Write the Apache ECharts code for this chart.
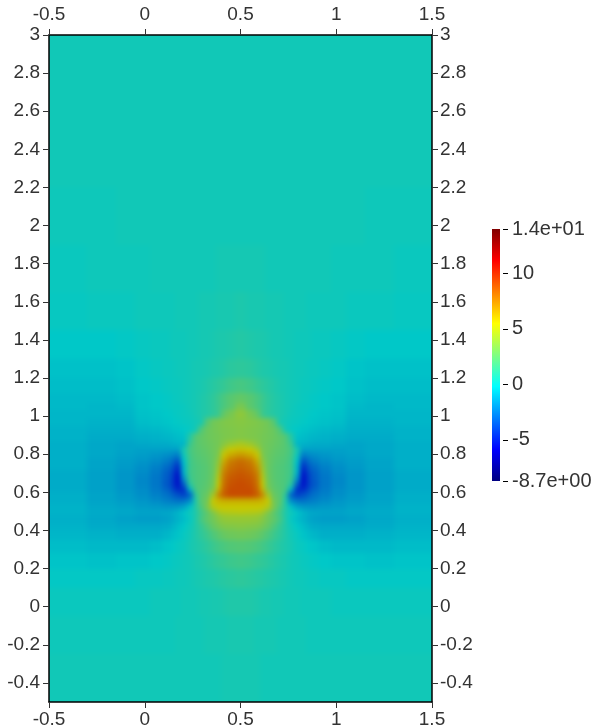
<!DOCTYPE html>
<html>
<head>
<meta charset="utf-8">
<style>
html,body{margin:0;padding:0;background:#fff}
#chart{width:600px;height:727px}
/* field layer: soften the cells, keep it inside the plot frame */
#chart canvas[data-zr-dom-id="zr_1"]{filter:blur(2.5px);clip-path:inset(35px 168px 25px 49px)}
</style>
<script src="https://cdn.jsdelivr.net/npm/echarts@6/dist/echarts.min.js"></script>
</head>
<body>
<div id="chart"></div>
<script>
const xTicks = [-0.5, 0, 0.5, 1, 1.5]
const yTicks = [3, 2.8, 2.6, 2.4, 2.2, 2, 1.8, 1.6, 1.4, 1.2, 1, 0.8, 0.6, 0.4, 0.2, 0, -0.2, -0.4]
const colorbarTicks = [-8.7, -5, 0, 5, 10, 14]
const colorbarLabels = ['-8.7e+00', '-5', '0', '5', '10', '1.4e+01']
const colorbarColors = ['#000080', '#0000ff', '#0080ff', '#00ffff', '#80ff80', '#ffff00', '#ff8000', '#ff0000', '#800000']
const fieldColors = ['#000064', '#0000c8', '#0064c8', '#00c8c8', '#64c864', '#c8c800', '#c86400', '#c80000', '#640000']

// cell borders of the field, finer around the bubble
const xEdges = [-0.5, -0.3, -0.15, -0.05, 0.03, 0.09, 0.13, 0.16, 0.19, 0.22, 0.25, 0.28, 0.31, 0.34, 0.37, 0.4, 0.43, 0.47,
  0.53, 0.57, 0.6, 0.63, 0.66, 0.69, 0.72, 0.75, 0.78, 0.81, 0.84, 0.87, 0.91, 0.97, 1.05, 1.15, 1.3, 1.5]
const yEdges = [3, 2.6, 2.2, 1.9, 1.65, 1.45, 1.3, 1.2, 1.12, 1.07, 1.03, 0.99, 0.95, 0.91, 0.87, 0.84, 0.81, 0.78, 0.75, 0.72,
  0.69, 0.66, 0.63, 0.6, 0.57, 0.54, 0.51, 0.48, 0.44, 0.4, 0.35, 0.28, 0.2, 0.1, -0.05, -0.25, -0.5]

// one row per y cell, top to bottom
const fieldRows = [
[.3,.3,.3,.3,.3,.3,.3,.3,.3,.3,.3,.3,.3,.3,.3,.3,.3,.3,.3,.3,.3,.3,.3,.3,.3,.3,.3,.3,.3,.3,.3,.3,.3,.3,.3],
[.3,.3,.3,.3,.3,.3,.3,.3,.3,.3,.3,.3,.3,.3,.3,.3,.3,.3,.3,.3,.3,.3,.3,.3,.3,.3,.3,.3,.3,.3,.3,.3,.3,.3,.3],
[.2,.2,.3,.3,.3,.3,.3,.3,.3,.3,.3,.3,.3,.3,.3,.3,.3,.3,.3,.3,.3,.3,.3,.3,.3,.3,.3,.3,.3,.3,.3,.3,.3,.2,.2],
[.1,.2,.2,.2,.3,.3,.3,.3,.3,.3,.3,.3,.3,.3,.4,.4,.4,.4,.4,.4,.4,.3,.3,.3,.3,.3,.3,.3,.3,.3,.3,.2,.2,.2,.1],
[0,.1,.1,.2,.2,.2,.2,.3,.3,.3,.3,.4,.4,.4,.5,.5,.5,.6,.5,.5,.5,.4,.4,.4,.3,.3,.3,.3,.2,.2,.2,.2,.1,.1,0],
[-.2,-.2,-.1,0,.1,.1,.2,.2,.2,.3,.3,.4,.4,.5,.6,.6,.7,.8,.7,.6,.6,.5,.4,.4,.3,.3,.2,.2,.2,.1,.1,0,-.1,-.2,-.2],
[-.4,-.4,-.3,-.1,0,.1,.1,.2,.2,.3,.4,.4,.5,.6,.7,.8,1,1.1,1,.8,.7,.6,.5,.4,.4,.3,.2,.2,.1,.1,0,-.1,-.3,-.4,-.4],
[-.5,-.5,-.4,-.2,-.1,0,.1,.1,.2,.3,.4,.5,.7,.9,1.1,1.3,1.6,1.8,1.6,1.3,1.1,.9,.7,.5,.4,.3,.2,.1,.1,0,-.1,-.2,-.4,-.5,-.5],
[-.6,-.6,-.5,-.3,-.2,-.1,0,.1,.2,.3,.4,.6,.8,1.1,1.5,1.9,2.3,2.6,2.3,1.9,1.5,1.1,.8,.6,.4,.3,.2,.1,0,-.1,-.2,-.3,-.5,-.6,-.6],
[-.6,-.7,-.6,-.3,-.2,-.1,0,0,.1,.3,.4,.6,.8,1.1,1.5,1.9,2.4,3.2,2.4,1.9,1.5,1.1,.8,.6,.4,.3,.1,0,0,-.1,-.2,-.3,-.6,-.7,-.6],
[-.7,-.7,-.7,-.4,-.3,-.2,-.1,0,.1,.2,.4,.6,.8,1.1,1.5,2.6,3.2,3.8,3.2,2.6,1.5,1.1,.8,.6,.4,.2,.1,0,-.1,-.2,-.3,-.4,-.7,-.7,-.7],
[-.7,-.8,-.8,-.5,-.4,-.3,-.2,-.1,0,.1,.3,.5,2.2,3,3.2,3.4,3.5,3.6,3.5,3.4,3.2,3,2.2,.5,.3,.1,0,-.1,-.2,-.3,-.4,-.5,-.8,-.8,-.7],
[-.8,-.9,-.9,-.7,-.6,-.5,-.4,-.3,-.2,0,.3,2,2.8,3,3.2,3.3,3.4,3.5,3.4,3.3,3.2,3,2.8,2,.3,0,-.2,-.3,-.4,-.5,-.6,-.7,-.9,-.9,-.8],
[-.8,-1,-1,-.9,-.8,-.7,-.6,-.5,-.4,.9,2.2,2.5,2.8,3,3.1,3.3,3.4,3.5,3.4,3.3,3.1,3,2.8,2.5,2.2,.9,-.4,-.5,-.6,-.7,-.8,-.9,-1,-1,-.8],
[-.9,-1.1,-1.2,-1.1,-1,-1,-.9,-.8,-.7,1.5,2.2,2.5,2.7,2.9,3.1,3.6,4.2,4.6,4.2,3.6,3.1,2.9,2.7,2.5,2.2,1.5,-.7,-.8,-.9,-1,-1,-1.1,-1.2,-1.1,-.9],
[-.9,-1.1,-1.2,-1.3,-1.3,-1.3,-1.3,-1.3,.5,1.8,2.2,2.4,2.6,2.9,3.2,4.6,5.5,5.7,5.5,4.6,3.2,2.9,2.6,2.4,2.2,1.8,.5,-1.3,-1.3,-1.3,-1.3,-1.3,-1.2,-1.1,-.9],
[-.9,-1.1,-1.3,-1.4,-1.6,-1.8,-2,-2.3,.2,1.7,2.1,2.3,2.5,2.8,3.4,5.6,6.4,6.8,6.4,5.6,3.4,2.8,2.5,2.3,2.1,1.7,.2,-2.3,-2,-1.8,-1.6,-1.4,-1.3,-1.1,-.9],
[-.9,-1.2,-1.4,-1.6,-1.9,-2.3,-2.8,-3.6,-.3,1.6,2,2.2,2.4,2.8,3.8,6.3,7.6,8,7.6,6.3,3.8,2.8,2.4,2.2,2,1.6,-.3,-3.6,-2.8,-2.3,-1.9,-1.6,-1.4,-1.2,-.9],
[-.9,-1.2,-1.5,-1.8,-2.2,-2.8,-3.4,-4.6,-.6,1.6,1.9,2.1,2.3,2.8,4.2,7,8,8.3,8,7,4.2,2.8,2.3,2.1,1.9,1.6,-.6,-4.6,-3.4,-2.8,-2.2,-1.8,-1.5,-1.2,-.9],
[-1,-1.3,-1.6,-1.9,-2.4,-3.1,-3.9,-5.2,-.7,1.6,1.9,2.1,2.3,2.8,4.6,7.5,8.3,8.6,8.3,7.5,4.6,2.8,2.3,2.1,1.9,1.6,-.7,-5.2,-3.9,-3.1,-2.4,-1.9,-1.6,-1.3,-1],
[-1,-1.3,-1.6,-2,-2.5,-3.2,-4.1,-5.5,-1.5,1.5,1.9,2.1,2.3,2.9,5,7.8,8.6,8.8,8.6,7.8,5,2.9,2.3,2.1,1.9,1.5,-1.5,-5.5,-4.1,-3.2,-2.5,-2,-1.6,-1.3,-1],
[-1,-1.3,-1.6,-2,-2.5,-3.3,-4.2,-5.4,-3,1,1.9,2.1,2.4,3,5.4,8,8.8,9,8.8,8,5.4,3,2.4,2.1,1.9,1,-3,-5.4,-4.2,-3.3,-2.5,-2,-1.6,-1.3,-1],
[-1,-1.3,-1.6,-1.9,-2.4,-3,-3.8,-4.7,-4.5,-.8,1.8,2.2,2.5,3.3,6,8.3,9,9,9,8.3,6,3.3,2.5,2.2,1.8,-.8,-4.5,-4.7,-3.8,-3,-2.4,-1.9,-1.6,-1.3,-1],
[-.9,-1.2,-1.5,-1.8,-2.2,-2.6,-3.1,-3.6,-4,-3,1,2.3,2.7,4.4,7.2,8.5,9,9,9,8.5,7.2,4.4,2.7,2.3,1,-3,-4,-3.6,-3.1,-2.6,-2.2,-1.8,-1.5,-1.2,-.9],
[-.9,-1.2,-1.4,-1.6,-1.9,-2.2,-2.4,-2.6,-2.5,-1.8,.6,2.4,3,5.4,6,6.2,6.2,6.2,6.2,6.2,6,5.4,3,2.4,.6,-1.8,-2.5,-2.6,-2.4,-2.2,-1.9,-1.6,-1.4,-1.2,-.9],
[-.8,-1.1,-1.2,-1.4,-1.5,-1.6,-1.6,-1.5,-1.2,-.4,.8,2,3.2,4.8,5.4,5.5,5.5,5.5,5.5,5.5,5.4,4.8,3.2,2,.8,-.4,-1.2,-1.5,-1.6,-1.6,-1.5,-1.4,-1.2,-1.1,-.8],
[-.8,-1,-1.1,-1.2,-1.2,-1.1,-1,-.7,-.3,.2,.6,1.6,2.4,3.4,4.4,4.8,4.9,5,4.9,4.8,4.4,3.4,2.4,1.6,.6,.2,-.3,-.7,-1,-1.1,-1.2,-1.2,-1.1,-1,-.8],
[-.9,-1.1,-1.3,-1.4,-1.4,-1.3,-1.1,-.8,-.5,0,.7,1.7,2.5,3,3.6,3.9,4,4,4,3.9,3.6,3,2.5,1.7,.7,0,-.5,-.8,-1.1,-1.3,-1.4,-1.4,-1.3,-1.1,-.9],
[-.8,-1,-1.1,-1.1,-1.1,-1,-.8,-.5,-.2,.2,.7,1.3,2,2.7,3.1,3.4,3.5,3.6,3.5,3.4,3.1,2.7,2,1.3,.7,.2,-.2,-.5,-.8,-1,-1.1,-1.1,-1.1,-1,-.8],
[-.7,-.8,-.9,-.9,-.9,-.7,-.5,-.3,0,.3,.7,1.1,1.5,2,2.4,2.7,2.9,3,2.9,2.7,2.4,2,1.5,1.1,.7,.3,0,-.3,-.5,-.7,-.9,-.9,-.9,-.8,-.7],
[-.5,-.6,-.6,-.6,-.5,-.3,-.2,0,.1,.4,.6,.8,1.1,1.4,1.7,1.9,2.1,2.2,2.1,1.9,1.7,1.4,1.1,.8,.6,.4,.1,0,-.2,-.3,-.5,-.6,-.6,-.6,-.5],
[-.3,-.4,-.3,-.3,-.2,-.1,0,.1,.2,.3,.5,.6,.8,1,1.2,1.3,1.5,1.6,1.5,1.3,1.2,1,.8,.6,.5,.3,.2,.1,0,-.1,-.2,-.3,-.3,-.4,-.3],
[-.1,-.1,-.1,0,0,.1,.1,.2,.2,.3,.4,.5,.6,.7,.8,.9,1,1.1,1,.9,.8,.7,.6,.5,.4,.3,.2,.2,.1,.1,0,0,-.1,-.1,-.1],
[.1,.1,.1,.1,.2,.2,.2,.2,.3,.3,.3,.4,.4,.5,.5,.6,.7,.7,.7,.6,.5,.5,.4,.4,.3,.3,.3,.2,.2,.2,.2,.1,.1,.1,.1],
[.2,.2,.2,.2,.2,.2,.2,.3,.3,.3,.3,.3,.4,.4,.4,.4,.5,.5,.5,.4,.4,.4,.4,.3,.3,.3,.3,.3,.2,.2,.2,.2,.2,.2,.2],
[.3,.3,.3,.3,.3,.3,.3,.3,.3,.3,.3,.3,.3,.3,.3,.4,.4,.4,.4,.4,.3,.3,.3,.3,.3,.3,.3,.3,.3,.3,.3,.3,.3,.3,.3]
]

const fieldCells = []
fieldRows.forEach((row, j) => {
  row.forEach((v, i) => {
    fieldCells.push([xEdges[i], yEdges[j], xEdges[i + 1], yEdges[j + 1], v])
  })
})

const textColor = '#333'
const labelFont = { color: textColor, fontSize: 19, fontFamily: 'Liberation Sans' }

const plotAxis = (position, ticks, extent, margin) => ({
  type: 'value',
  position,
  min: extent[0],
  max: extent[1],
  zlevel: 2,
  splitLine: { show: false },
  axisLine: { onZero: false, lineStyle: { color: '#000', width: 1.5 } },
  axisTick: { customValues: ticks, length: 6, lineStyle: { color: textColor } },
  axisLabel: { ...labelFont, customValues: ticks, margin, formatter: v => String(v) }
})

const chart = echarts.init(document.getElementById('chart'), null, { renderer: 'canvas' })

chart.setOption({
  animation: false,
  backgroundColor: '#fff',
  grid: [
    { left: 49, top: 35, width: 383, height: 667, outerBoundsMode: 'none' },
    { left: 492, top: 229, width: 8, height: 252, outerBoundsMode: 'none' }
  ],
  xAxis: [
    plotAxis('bottom', xTicks, [-0.5, 1.5], 8),
    plotAxis('top', xTicks, [-0.5, 1.5], 11),
    { type: 'value', gridIndex: 1, show: false, min: 0, max: 1 }
  ],
  yAxis: [
    plotAxis('left', yTicks, [-0.5, 3], 9),
    plotAxis('right', yTicks, [-0.5, 3], 8),
    {
      type: 'value',
      gridIndex: 1,
      position: 'right',
      min: -8.7,
      max: 14,
      offset: 3,
      splitLine: { show: false },
      axisLine: { show: false },
      axisTick: { show: false },
      axisLabel: {
        ...labelFont,
        fontSize: 20,
        customValues: colorbarTicks,
        margin: 9,
        formatter: v => colorbarLabels[colorbarTicks.indexOf(v)]
      }
    }
  ],
  visualMap: {
    show: false,
    seriesIndex: 0,
    dimension: 4,
    min: -8.7,
    max: 14,
    inRange: { color: fieldColors }
  },
  series: [
    {
      type: 'custom',
      coordinateSystem: 'cartesian2d',
      xAxisIndex: 0,
      yAxisIndex: 0,
      zlevel: 1,
      data: fieldCells,
      encode: { x: [0, 2], y: [1, 3] },
      silent: true,
      renderItem: (params, api) => {
        const a = api.coord([api.value(0), api.value(1)])
        const b = api.coord([api.value(2), api.value(3)])
        const cs = params.coordSys
        // run the outer cells past the frame so the blur does not fade there
        let x0 = Math.round(a[0])
        let y0 = Math.round(a[1])
        let x1 = Math.round(b[0])
        let y1 = Math.round(b[1])
        if (x0 <= cs.x) x0 -= 10
        if (y0 <= cs.y) y0 -= 10
        if (x1 >= cs.x + cs.width) x1 += 10
        if (y1 >= cs.y + cs.height) y1 += 10
        return {
          type: 'rect',
          shape: { x: x0, y: y0, width: x1 - x0, height: y1 - y0 },
          style: { fill: api.visual('color') }
        }
      }
    },
    {
      // the colour bar
      type: 'custom',
      coordinateSystem: 'cartesian2d',
      xAxisIndex: 2,
      yAxisIndex: 2,
      data: [[0, 14, 1, -8.7]],
      encode: { x: [0, 2], y: [1, 3] },
      silent: true,
      renderItem: (params, api) => {
        const a = api.coord([api.value(0), api.value(1)])
        const b = api.coord([api.value(2), api.value(3)])
        return {
          type: 'rect',
          shape: { x: a[0], y: a[1], width: b[0] - a[0], height: b[1] - a[1] },
          style: {
            fill: new echarts.graphic.LinearGradient(0, 1, 0, 0,
              colorbarColors.map((color, i) => ({ offset: i / (colorbarColors.length - 1), color })))
          }
        }
      }
    },
    {
      // colour bar ticks, the axis ones do not show next to the bar
      type: 'custom',
      coordinateSystem: 'cartesian2d',
      xAxisIndex: 2,
      yAxisIndex: 2,
      data: colorbarTicks.map(v => [1, v]),
      encode: { x: 0, y: 1 },
      silent: true,
      renderItem: (params, api) => {
        const p = api.coord([api.value(0), api.value(1)])
        const y = Math.round(p[1]) + 0.5
        return {
          type: 'line',
          shape: { x1: p[0] + 3, y1: y, x2: p[0] + 8, y2: y },
          style: { stroke: '#000', lineWidth: 1 }
        }
      }
    }
  ]
})
</script>
</body>
</html>
